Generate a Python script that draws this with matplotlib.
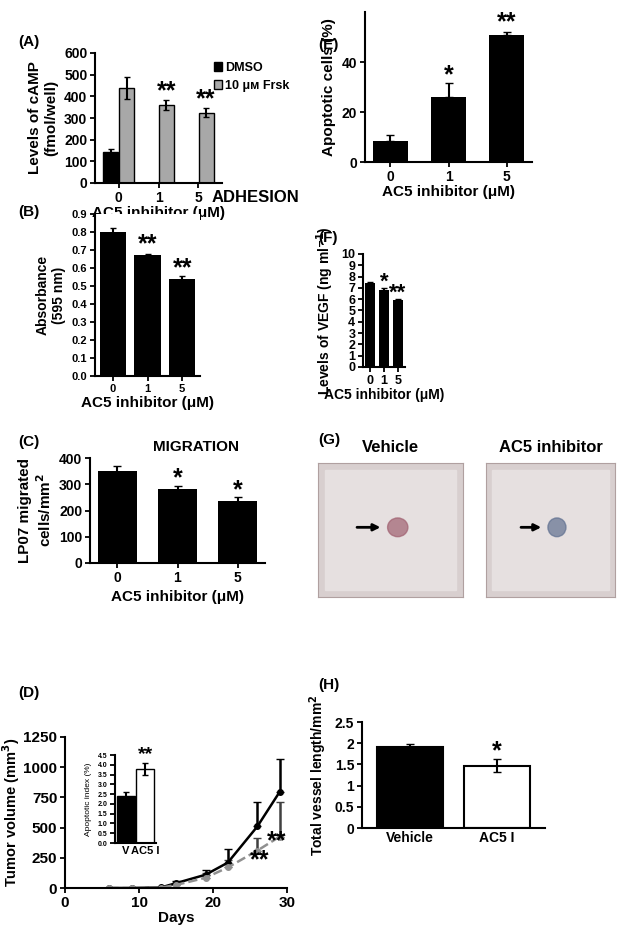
import matplotlib
matplotlib.use("Agg")
import matplotlib.pyplot as plt
import numpy as np

plt.rcParams["font.family"] = "Liberation Sans"
plt.rcParams["font.weight"] = "bold"
plt.rcParams["axes.labelweight"] = "bold"

W, H = 631, 933
conc = ["0", "1", "5"]
# A
a_dmso = [145, 0, 0]; a_dmso_err = [10, 0, 0]
a_frsk = [440, 360, 325]; a_frsk_err = [50, 25, 22]
# B
b_vals = [0.80, 0.67, 0.54]; b_err = [0.02, 0.01, 0.015]
# C
c_vals = [352, 282, 236]; c_err = [18, 12, 14]
# D
d_days = [6, 9, 13, 15, 19, 22, 26, 29]
d_veh = [0, 0, 5, 40, 110, 210, 510, 795]
d_veh_err = [0, 0, 5, 20, 40, 110, 200, 270]
d_ac5 = [0, 0, 3, 25, 85, 170, 310, 425]
d_ac5_err = [0, 0, 3, 15, 40, 60, 100, 290]
ins_cats = ["V", "AC5 I"]; ins_vals = [2.4, 3.8]; ins_err = [0.2, 0.3]
# E
e_vals = [8.5, 26, 51]; e_err = [2.5, 5.5, 1.2]
# F
f_vals = [7.4, 6.8, 5.9]; f_err = [0.15, 0.2, 0.15]
# H
h_cats = ["Vehicle", "AC5 I"]; h_vals = [1.92, 1.47]; h_err = [0.05, 0.15]

fig = plt.figure(figsize=(W/100, H/100), dpi=100)

def ax_px(l, t, r, b):
    return fig.add_axes([l/W, 1-b/H, (r-l)/W, (b-t)/H])

def style(ax, fs=10):
    ax.spines["top"].set_visible(False)
    ax.spines["right"].set_visible(False)
    ax.spines["left"].set_linewidth(1.5)
    ax.spines["bottom"].set_linewidth(1.5)
    ax.tick_params(labelsize=fs, width=1.3, pad=2)
    for t in ax.get_xticklabels() + ax.get_yticklabels():
        t.set_fontweight("bold")

def label(x, y, s, fs=11):
    fig.text(x/W, 1-y/H, s, fontsize=fs, fontweight="bold", ha="left", va="center")

x = np.arange(3)
# Panel A
ax = ax_px(95, 53, 222, 183)
ax.bar(x-0.2, a_dmso, 0.38, yerr=a_dmso_err, color="black", edgecolor="black", capsize=2, label="DMSO")
ax.bar(x+0.2, a_frsk, 0.38, yerr=a_frsk_err, color="#a8a8a8", edgecolor="black", capsize=2, label="10 μм Frsk")
ax.set_ylim(0, 600); ax.set_yticks(range(0, 601, 100))
ax.set_xticks(x); ax.set_xticklabels(conc); ax.set_xlim(-0.6, 2.6)
ax.set_ylabel("Levels of cAMP\n(fmol/well)", fontsize=11)
ax.set_xlabel("AC5 inhibitor (μM)", fontsize=11, labelpad=1)
for i in [1, 2]:
    ax.text(i+0.2, a_frsk[i]+a_frsk_err[i]+5, "**", ha="center", fontsize=18, fontweight="bold")
ax.legend(loc="upper left", bbox_to_anchor=(0.85, 1.02), frameon=False, fontsize=9, handlelength=0.6, handletextpad=0.3)
style(ax, 10)
label(18, 42, "(A)")

# Panel B
ax = ax_px(95, 214, 200, 376)
ax.bar(x, b_vals, 0.75, yerr=b_err, color="black", capsize=2, ecolor="black")
ax.set_ylim(0, 0.9); ax.set_yticks(np.round(np.arange(0, 0.91, 0.1), 1))
ax.set_xticks(x); ax.set_xticklabels(conc)
ax.set_ylabel("Absorbance\n(595 nm)", fontsize=10)
ax.set_xlabel("AC5 inhibitor (μM)", fontsize=11, labelpad=2)
for i in [1, 2]:
    ax.text(i, b_vals[i]+0.02, "**", ha="center", fontsize=18, fontweight="bold")
fig.text(255/W, 1-198/H, "ADHESION", ha="center", va="center", fontsize=12, fontweight="bold")
style(ax, 8)
label(18, 212, "(B)")

# Panel C
ax = ax_px(90, 458, 265, 563)
ax.bar(x, c_vals, 0.65, yerr=c_err, color="black", capsize=3, ecolor="black")
ax.set_ylim(0, 400); ax.set_yticks(range(0, 401, 100))
ax.set_xticks(x); ax.set_xticklabels(conc, fontsize=11)
ax.set_ylabel("LP07 migrated\ncells/mm$^2$", fontsize=11)
ax.set_xlabel("AC5 inhibitor (μM)", fontsize=11)
for i in [1, 2]:
    ax.text(i, c_vals[i]+c_err[i]+2, "*", ha="center", fontsize=18, fontweight="bold")
ax.text(1.3, 425, "MIGRATION", ha="center", fontsize=11, fontweight="bold")
style(ax, 10)
label(18, 442, "(C)")

# Panel D
ax = ax_px(65, 737, 287, 888)
ax.errorbar(d_days, d_veh, yerr=[np.zeros(8), d_veh_err], color="black", marker="o", ms=4, lw=1.8, capsize=3)
ax.errorbar(d_days, d_ac5, yerr=[np.zeros(8), d_ac5_err], color="#909090", marker="o", ms=4, lw=1.8, ls="--", capsize=3, ecolor="#404040")
ax.set_xlim(0, 30); ax.set_ylim(0, 1250)
ax.set_xticks([0, 10, 20, 30]); ax.set_yticks(range(0, 1251, 250))
ax.set_ylabel("Tumor volume (mm$^3$)", fontsize=10.5, labelpad=1)
ax.set_xlabel("Days", fontsize=11, labelpad=1)
ax.text(27.3, 330, "**", fontsize=18, fontweight="bold")
ax.text(25, 170, "**", fontsize=18, fontweight="bold")
style(ax, 11)
label(18, 693, "(D)")
ins = ax_px(115, 755, 156, 843)
ins.bar([0, 1], ins_vals, 0.9, yerr=ins_err, color=["black", "white"], edgecolor="black", capsize=2)
ins.set_ylim(0, 4.5); ins.set_yticks(np.arange(0, 4.51, 0.5))
ins.set_yticklabels([f"{v:.1f}" for v in np.arange(0, 4.51, 0.5)])
ins.set_xticks([0, 1]); ins.set_xticklabels(ins_cats)
ins.set_ylabel("Apoptotic index (%)", fontsize=6, fontweight="normal")
ins.text(1, 4.3, "**", ha="center", fontsize=14, fontweight="bold")
style(ins, 5)
ins.tick_params(axis="x", labelsize=8, length=0)

# Panel E
ax = ax_px(365, 12, 532, 162)
ax.bar(x, e_vals, 0.6, yerr=[np.zeros(3), e_err], color="black", capsize=3, ecolor="black")
ax.set_ylim(0, 60); ax.set_yticks([0, 20, 40])
ax.set_xticks(x); ax.set_xticklabels(conc)
ax.set_ylabel("Apoptotic cells (%)", fontsize=11)
ax.set_xlabel("AC5 inhibitor (μM)", fontsize=11, labelpad=1)
ax.text(1, 32, "*", ha="center", fontsize=18, fontweight="bold")
ax.text(2, 53, "**", ha="center", fontsize=18, fontweight="bold")
style(ax, 10)
label(318, 45, "(E)")

# Panel F
ax = ax_px(363, 254, 405, 367)
ax.bar(x, f_vals, 0.75, yerr=f_err, color="black", capsize=2, ecolor="black")
ax.set_ylim(0, 10); ax.set_yticks(range(0, 11))
ax.set_xticks(x); ax.set_xticklabels(conc)
ax.set_ylabel("Levels of VEGF (ng ml$^{-1}$)", fontsize=10)
ax.set_xlabel("AC5 inhibitor (μM)", fontsize=10, labelpad=1)
ax.text(1, 7.0, "*", ha="center", fontsize=16, fontweight="bold")
ax.text(2, 6.05, "**", ha="center", fontsize=16, fontweight="bold")
style(ax, 9)
label(318, 238, "(F)")

# Panel G (photographs rendered as simplified placeholders)
label(318, 440, "(G)")
for (l, r, title, spot) in [(318, 463, "Vehicle", "#a06070"), (486, 615, "AC5 inhibitor", "#607090")]:
    g = ax_px(l, 463, r, 597)
    g.set_facecolor("#d8cfcf")
    g.add_patch(plt.Rectangle((0.05, 0.05), 0.9, 0.9, color="#e6e0e0"))
    g.add_patch(plt.Circle((0.55, 0.52), 0.07, color=spot, alpha=0.7))
    g.annotate("", xy=(0.45, 0.52), xytext=(0.25, 0.52), arrowprops=dict(arrowstyle="-|>", color="black", lw=2))
    g.set_xlim(0, 1); g.set_ylim(0, 1)
    g.set_xticks([]); g.set_yticks([])
    for s in g.spines.values():
        s.set_color("#b0a0a0")
    fig.text((l+r)/2/W, 1-448/H, title, ha="center", va="center", fontsize=12, fontweight="bold")

# Panel H
ax = ax_px(362, 722, 545, 828)
ax.bar([0, 1], h_vals, 0.75, yerr=h_err, color=["black", "white"], edgecolor="black", capsize=3, lw=1.5)
ax.set_ylim(0, 2.5); ax.set_yticks([0, 0.5, 1, 1.5, 2, 2.5])
ax.set_yticklabels(["0", "0.5", "1", "1.5", "2", "2.5"])
ax.set_xticks([0, 1]); ax.set_xticklabels(h_cats); ax.set_xlim(-0.55, 1.55)
ax.tick_params(axis="x", length=0)
ax.set_ylabel("Total vessel length/mm$^2$", fontsize=10)
ax.text(1, 1.65, "*", ha="center", fontsize=18, fontweight="bold")
style(ax, 10)
label(318, 685, "(H)")

fig.savefig("out.png", dpi=100, facecolor="white")
